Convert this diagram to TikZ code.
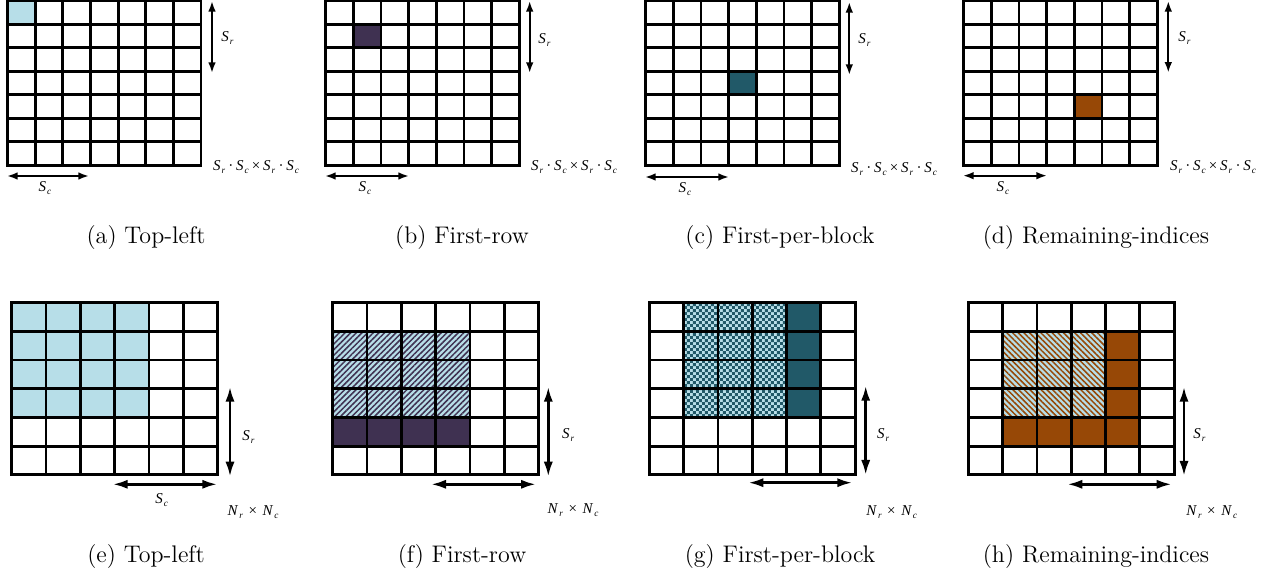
\documentclass[tikz,border=0pt]{standalone}
\usepackage{fontspec}
\newfontfamily\tms{Liberation Serif}
\usetikzlibrary{arrows.meta,patterns,patterns.meta}
\definecolor{lblue}{HTML}{B7DEE8}
\definecolor{dpurple}{HTML}{3F3151}
\definecolor{dteal}{HTML}{215968}
\definecolor{dbrown}{HTML}{974806}
\pgfdeclarepatternformonly{smallchecker}{\pgfqpoint{0pt}{0pt}}{\pgfqpoint{3.2pt}{3.2pt}}{\pgfqpoint{3.2pt}{3.2pt}}{%
\pgfpathrectangle{\pgfqpoint{0pt}{0pt}}{\pgfqpoint{1.6pt}{1.6pt}}%
\pgfpathrectangle{\pgfqpoint{1.6pt}{1.6pt}}{\pgfqpoint{1.6pt}{1.6pt}}%
\pgfusepath{fill}}
\newcommand{\mygrid}[2]{%
  \foreach \i in {1,...,#1} {\draw[gridline] (\i,0) -- (\i,#2);}
  \foreach \j in {1,...,#2} {\draw[gridline] (0,\j) -- (#1,\j);}
  \draw[gridline] (0,0) rectangle (#1,#2);}
% italic letter with a small lowered subscript
\newcommand{\Sb}[2]{\textit{#1}\kern0.5pt\raisebox{-1.4pt}{\fontsize{4.6}{5}\selectfont\textit{#2}}}
\newcommand{\bigsz}{\Sb{S}{r}\kern1.6pt·\kern1.4pt\Sb{S}{c}\kern1.5pt×\kern1.5pt\Sb{S}{r}\kern1.6pt·\kern1.4pt\Sb{S}{c}}
\newcommand{\nsz}{\Sb{N}{r}\kern2.8pt×\kern2.8pt\Sb{N}{c}}
\tikzset{
  gridline/.style={line width=1.4pt, line join=miter},
  dimA/.style={<->, >={Latex[length=5.3pt,width=3.8pt]}, line width=1pt},
  dimB/.style={<->, >={Latex[length=7.5pt,width=4.6pt]}, line width=1.35pt},
  lab/.style={font=\tms\fontsize{7.5}{8}\selectfont, inner sep=0pt},
  captxt/.style={font=\fontsize{12}{14}\selectfont, inner sep=0pt},
  topgrid/.style={x=13.825pt, y=-11.725pt},
  botgrid/.style={x=17.15pt, y=-14.35pt},
  stripeNE/.style={pattern={Lines[angle=45,distance=2pt,line width=0.75pt]}},
  stripeNW/.style={pattern={Lines[angle=-45,distance=2pt,line width=0.75pt]}},
}
\begin{document}
\begin{tikzpicture}[x=0.5pt, y=-0.5pt]
\useasboundingbox (0,0) rectangle (1276,576);
% ---------- top row ----------
% (a)
\begin{scope}[shift={(7.5,1)}, topgrid]
  \fill[lblue] (0,0) rectangle (1,1);
  \mygrid{7}{7}
\end{scope}
\coordinate (avt) at (212,1); \coordinate (avb) at (212,73);
\coordinate (ahl) at (7,176); \coordinate (ahr) at (89,176);
\draw[dimA] (avt) -- (avb);
\draw[dimA] (ahl) -- (ahr);
\node[lab, anchor=west] (aSr) at (221,38) {\Sb{S}{r}};
\node[lab] (aSc) at (45,188) {\Sb{S}{c}};
\node[lab] (asz) at (256,167) {\bigsz};
\node[captxt] (capa) at (146,237.5) {(a) Top-left};
% (b)
\begin{scope}[shift={(325.7,1)}, topgrid]
  \fill[dpurple] (1,1) rectangle (2,2);
  \mygrid{7}{7}
\end{scope}
\coordinate (bvt) at (529.7,1); \coordinate (bvb) at (529.7,73);
\coordinate (bhl) at (325,176); \coordinate (bhr) at (409,176);
\draw[dimA] (bvt) -- (bvb);
\draw[dimA] (bhl) -- (bhr);
\node[lab, anchor=west] (bSr) at (538,40) {\Sb{S}{r}};
\node[lab] (bSc) at (365,188) {\Sb{S}{c}};
\node[lab] (bsz) at (574,167) {\bigsz};
\node[captxt] (capb) at (462,237.5) {(b) First-row};
% (c)
\begin{scope}[shift={(645.7,1)}, topgrid]
  \fill[dteal] (3,3) rectangle (4,4);
  \mygrid{7}{7}
\end{scope}
\coordinate (cvt) at (849.3,2); \coordinate (cvb) at (849.3,75);
\coordinate (chl) at (645,177); \coordinate (chr) at (729,177);
\draw[dimA] (cvt) -- (cvb);
\draw[dimA] (chl) -- (chr);
\node[lab, anchor=west] (cSr) at (858,40) {\Sb{S}{r}};
\node[lab] (cSc) at (685,189) {\Sb{S}{c}};
\node[lab] (csz) at (894,169) {\bigsz};
\node[captxt] (capc) at (780,237.5) {(c) First-per-block};
% (d)
\begin{scope}[shift={(963.7,1)}, topgrid]
  \fill[dbrown] (4,4) rectangle (5,5);
  \mygrid{7}{7}
\end{scope}
\coordinate (dvt) at (1168.3,1); \coordinate (dvb) at (1168.3,72.7);
\coordinate (dhl) at (963,175.7); \coordinate (dhr) at (1047,175.7);
\draw[dimA] (dvt) -- (dvb);
\draw[dimA] (dhl) -- (dhr);
\node[lab, anchor=west] (dSr) at (1178,38) {\Sb{S}{r}};
\node[lab] (dSc) at (1003,188) {\Sb{S}{c}};
\node[lab] (dsz) at (1213,167) {\bigsz};
\node[captxt] (capd) at (1096,237.5) {(d) Remaining-indices};
% ---------- bottom row ----------
% (e)
\begin{scope}[shift={(11.7,302.7)}, botgrid]
  \fill[lblue] (0,0) rectangle (4,4);
  \mygrid{6}{6}
\end{scope}
\coordinate (evt) at (230,386.7); \coordinate (evb) at (230,476.7);
\coordinate (ehl) at (112.7,484.3); \coordinate (ehr) at (217.3,484.3);
\draw[dimB] (evt) -- (evb);
\draw[dimB] (ehl) -- (ehr);
\node[lab, anchor=west] (eSr) at (242,437) {\Sb{S}{r}};
\node[lab] (eSc) at (161.7,500) {\Sb{S}{c}};
\node[lab] (esz) at (253,512) {\nsz};
\node[captxt] (cape) at (146,557) {(e) Top-left};
% (f)
\begin{scope}[shift={(332.7,302.7)}, botgrid]
  \fill[lblue] (0,1) rectangle (4,4);
  \fill[stripeNE, pattern color=dpurple] (0,1) rectangle (4,4);
  \fill[dpurple] (0,4) rectangle (4,5);
  \mygrid{6}{6}
\end{scope}
\coordinate (fvt) at (548.3,386.7); \coordinate (fvb) at (548.3,476.7);
\coordinate (fhl) at (431,484.3); \coordinate (fhr) at (536,484.3);
\draw[dimB] (fvt) -- (fvb);
\draw[dimB] (fhl) -- (fhr);
\node[lab, anchor=west] (fSr) at (561.7,435) {\Sb{S}{r}};
\node[lab] (fsz) at (573,510) {\nsz};
\node[captxt] (capf) at (462,557) {(f) First-row};
% (g)
\begin{scope}[shift={(649.3,302.7)}, botgrid]
  \fill[lblue] (1,0) rectangle (4,4);
  \fill[pattern=smallchecker, pattern color=dteal] (1,0) rectangle (4,4);
  \fill[dteal] (4,0) rectangle (5,4);
  \mygrid{6}{6}
\end{scope}
\coordinate (gvt) at (865.7,385.7); \coordinate (gvb) at (865.7,475);
\coordinate (ghl) at (748.3,482.7); \coordinate (ghr) at (852.3,482.7);
\draw[dimB] (gvt) -- (gvb);
\draw[dimB] (ghl) -- (ghr);
\node[lab, anchor=west] (gSr) at (876.7,435) {\Sb{S}{r}};
\node[lab] (gsz) at (891.7,512) {\nsz};
\node[captxt] (capg) at (780,557) {(g) First-per-block};
% (h)
\begin{scope}[shift={(968.3,302.7)}, botgrid]
  \fill[lblue] (1,1) rectangle (4,4);
  \fill[stripeNW, pattern color=dbrown] (1,1) rectangle (4,4);
  \fill[dbrown] (4,1) rectangle (5,5);
  \fill[dbrown] (1,4) rectangle (5,5);
  \mygrid{6}{6}
\end{scope}
\coordinate (hvt) at (1184,386.7); \coordinate (hvb) at (1184,476);
\coordinate (hhl) at (1067.3,484.3); \coordinate (hhr) at (1171.7,484.3);
\draw[dimB] (hvt) -- (hvb);
\draw[dimB] (hhl) -- (hhr);
\node[lab, anchor=west] (hSr) at (1193,435) {\Sb{S}{r}};
\node[lab] (hsz) at (1211.7,512) {\nsz};
\node[captxt] (caph) at (1096,557) {(h) Remaining-indices};
\end{tikzpicture}
\end{document}
